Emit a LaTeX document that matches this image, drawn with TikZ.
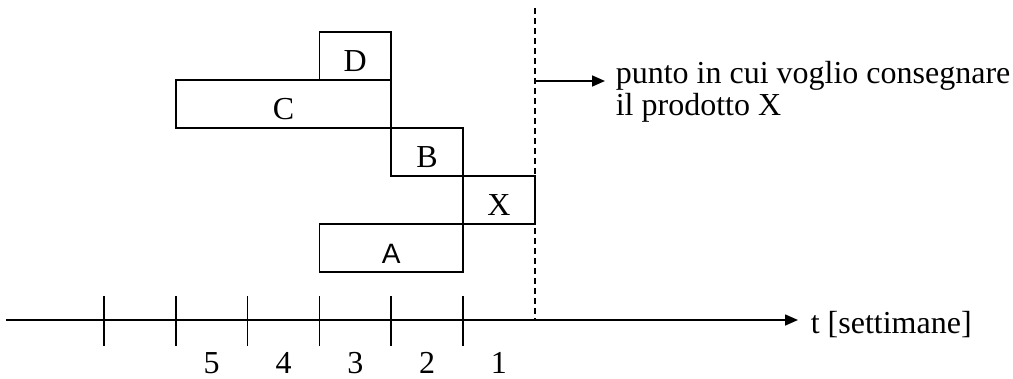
\documentclass[tikz,border=0pt]{standalone}
\usepackage{fontspec}
\setmainfont{Liberation Serif}
\newfontfamily\plainsans{Liberation Sans}
\usetikzlibrary{arrows.meta}
\begin{document}
\begin{tikzpicture}[x=1pt,y=-1pt,
  line width=1.6pt,
  every node/.style={font=\fontsize{32}{32}\selectfont, inner sep=0pt},
  task/.style={draw, rectangle, minimum height=48pt, text height=30pt, text depth=0pt},
  tip/.style={-{Triangle[length=13pt,width=11pt]}},
  tickmark/.style={line width=1.6pt},
  deadline/.style={line width=1.4pt, dash pattern=on 6pt off 4pt},
]
\useasboundingbox (0,0) rectangle (1013,378);

% activity bars (one column = one week)
\node[task, minimum width=71.8pt]  (D) at (355.3,56)  {D};
\node[task, minimum width=215.4pt] (C) at (283.5,104) {C};
\node[task, minimum width=71.8pt]  (B) at (427.1,152) {B};
\node[task, minimum width=71.8pt]  (X) at (498.9,200) {X};
\node[task, minimum width=143.6pt, font=\plainsans\fontsize{28}{30}\selectfont] (A) at (391.2,248) {A};

% time axis
\coordinate (t0) at (6,320);
\node[anchor=base west] (tlab) at (810,333) {t [settimane]};
\draw[tip, shorten >=12pt] (t0) -- (t0 -| tlab.west);

\foreach \k in {0,...,5}
  \draw[tickmark] (104+71.8*\k,296) -- (104+71.8*\k,346);
\foreach \n [count=\k] in {5,4,3,2,1}
  \node[anchor=base] (w\n) at (139.9+71.8*\k,373) {\n};

% delivery instant
\coordinate (dtop) at (534.8,8);
\coordinate (dbot) at (534.8,320);
\draw[deadline] (dtop) -- (dbot);

\coordinate (due) at (534.8,81);
\node[anchor=base west, align=left] (note) at (615,115) {punto in cui voglio consegnare\\il prodotto X};
\draw[tip, shorten >=10pt] (due) -- (due -| note.west);
\end{tikzpicture}
\end{document}
